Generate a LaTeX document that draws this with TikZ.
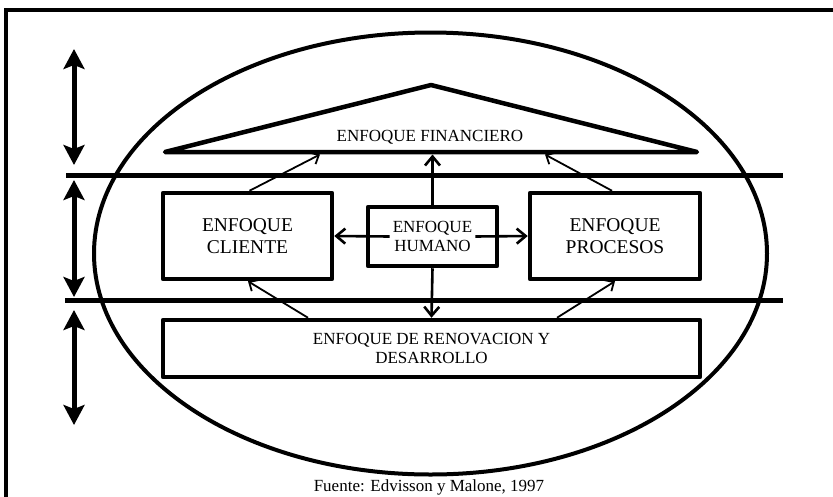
\documentclass[tikz,border=0pt]{standalone}
\usepackage{fontspec}
\setmainfont{Liberation Serif}
\usetikzlibrary{arrows.meta,calc}
\begin{document}
\begin{tikzpicture}[x=1pt,y=-1pt,
  box/.style={draw, line width=4.5pt, align=center, inner sep=0pt, line join=round},
  lbl/.style={font=\fontsize{17}{19.5}\selectfont, align=center, inner sep=3pt},
  bigl/.style={font=\fontsize{19.5}{22}\selectfont, align=center},
  band/.style={line width=5pt},
  sidearr/.style={line width=5pt, {Stealth[length=20pt,width=21pt,inset=4pt]}-{Stealth[length=20pt,width=21pt,inset=4pt]}},
  thinarr/.style={line width=1.8pt, -{Straight Barb[length=7pt,width=13pt]}},
  humarr/.style={line width=2.6pt, -{Straight Barb[length=9pt,width=15pt]}},
  roofline/.style={line width=4.5pt, line join=round, line cap=round}]
\useasboundingbox (0,0) rectangle (833,496);
% frame
\draw[line width=3.5pt] (6,500) -- (6,10) -- (840,10);
% ellipse
\draw[line width=4pt] (430.5,253.5) ellipse [x radius=336.5, y radius=221];
% bands
\draw[band] (66,175) -- (783,175);
\draw[band] (65,300) -- (783,300);
% side arrows
\coordinate (a1t) at (74,49);  \coordinate (a1b) at (74,165);
\coordinate (a2t) at (74,180); \coordinate (a2b) at (74,297);
\coordinate (a3t) at (74,310); \coordinate (a3b) at (74,425);
\draw[sidearr] (a1t) -- (a1b);
\draw[sidearr] (a2t) -- (a2b);
\draw[sidearr] (a3t) -- (a3b);
% roof
\coordinate (roofL) at (165,152);
\coordinate (roofT) at (431,85);
\coordinate (roofR) at (697,152);
\draw[roofline] (roofL) -- (roofT) -- (roofR) -- cycle;
\node[lbl] (fin) at (430,137) {ENFOQUE FINANCIERO};
\coordinate (rbL) at (320,154.5);
\coordinate (rbM) at (432.5,154.5);
\coordinate (rbR) at (545,154.5);
% boxes
\node[box, bigl, minimum width=169pt, minimum height=86pt] (cli) at (247.5,236) {ENFOQUE\\CLIENTE};
\node[box, bigl, minimum width=170pt, minimum height=86pt] (pro) at (615,236) {ENFOQUE\\PROCESOS};
\node[box, minimum width=129pt, minimum height=59pt] (hum) at (432.5,236.5) {};
\node[lbl] (humT) at (432.5,236.5) {ENFOQUE\\HUMANO};
\node[box, lbl, inner sep=0pt, minimum width=537pt, minimum height=57pt] (ren) at (431.5,348.5) {ENFOQUE DE RENOVACION Y\\DESARROLLO};
% connectors
\draw[humarr] (hum.north) -- (rbM);
\draw[humarr] (hum.south) -- (ren.north);
\draw[humarr] (humT.west) -- (cli.east);
\draw[humarr] (humT.east) -- (pro.west);
\draw[thinarr] ([xshift=2pt]cli.north) -- (rbL);
\draw[thinarr] ([xshift=-3pt]pro.north) -- (rbR);
\draw[thinarr] ([xshift=-123.5pt]ren.north) -- ([xshift=0.5pt]cli.south);
\draw[thinarr] ([xshift=125.5pt]ren.north) -- ([xshift=0pt]pro.south);
% source
\node[lbl] (src) at (429,487) {Fuente: Edvisson y Malone, 1997};
\end{tikzpicture}
\end{document}
